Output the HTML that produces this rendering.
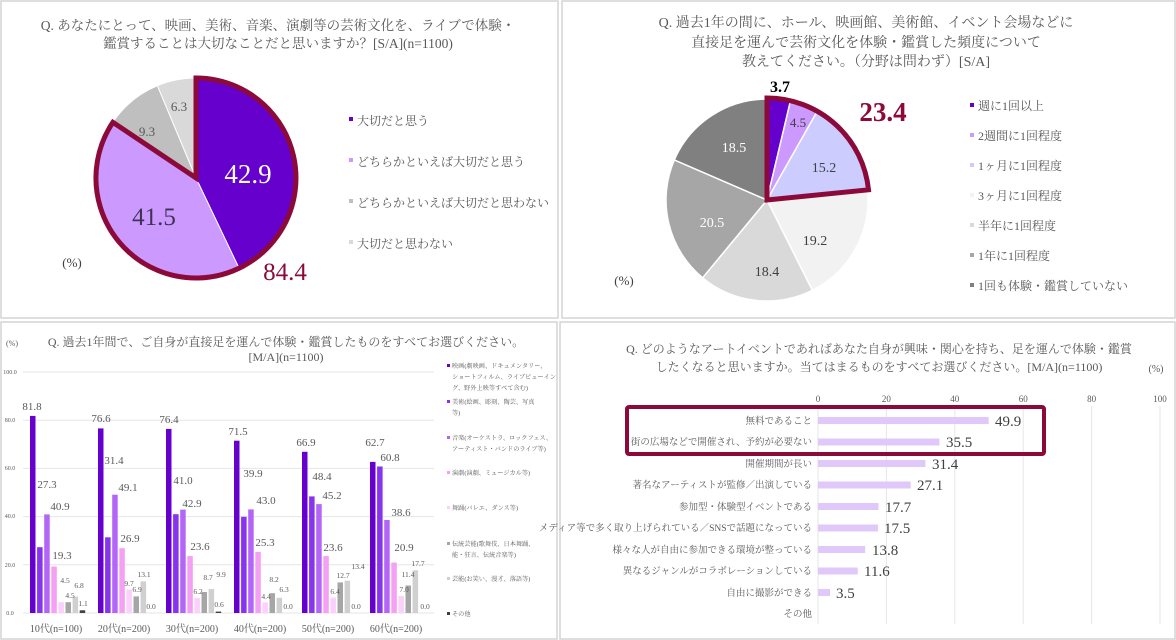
<!DOCTYPE html>
<html><head><meta charset="utf-8"><style>
html,body{margin:0;padding:0;background:#fff;}
svg{display:block;font-family:"Liberation Serif","Noto Serif CJK SC",serif;}
.t{fill:#595959;}
</style></head><body>
<svg width="1176" height="640" viewBox="0 0 1176 640" xmlns="http://www.w3.org/2000/svg">
<rect x="0" y="0" width="1176" height="640" fill="#fff"/>
<g fill="none" stroke="#d4d4d4" stroke-width="1.5">
<rect x="1" y="1" width="557" height="317"/>
<rect x="562" y="1" width="613" height="317"/>
<rect x="1" y="322" width="556" height="317"/>
<rect x="560" y="322" width="615" height="317"/>
</g>

<!-- Pie 1 -->
<g class="t" font-size="13.5" text-anchor="middle">
<text x="278" y="30">Q. あなたにとって、映画、美術、音楽、演劇等の芸術文化を、ライブで体験・</text>
<text x="278" y="48">鑑賞することは大切なことだと思いますか？[S/A](n=1100)</text>
</g>
<g stroke="#fff" stroke-width="1">
<path d="M196,178 L196,78 A100,100 0 0 1 239.1,268.3 Z" fill="#6600cc"/>
<path d="M196,178 L239.1,268.3 A100,100 0 0 1 112.9,122.3 Z" fill="#cc99ff"/>
<path d="M196,178 L112.9,122.3 A100,100 0 0 1 157.4,85.7 Z" fill="#bfbfbf"/>
<path d="M196,178 L157.4,85.7 A100,100 0 0 1 196,78 Z" fill="#d9d9d9"/>
</g>
<path d="M196,178 L196,78 A100,100 0 1 1 112.9,122.3 Z" fill="none" stroke="#8b0a3a" stroke-width="5" stroke-linejoin="miter"/>
<text x="248" y="183" font-size="27" fill="#fff" text-anchor="middle">42.9</text>
<text x="154" y="225" font-size="25" fill="#3f3355" text-anchor="middle">41.5</text>
<text x="147" y="136" font-size="13" fill="#595959" text-anchor="middle">9.3</text>
<text x="179" y="111" font-size="13" fill="#595959" text-anchor="middle">6.3</text>
<text x="285" y="280" font-size="25" fill="#8b0a3a" text-anchor="middle">84.4</text>
<text x="72" y="267" font-size="13" fill="#404040" text-anchor="middle">(%)</text>
<g font-size="12" class="t">
<rect x="349" y="117" width="4" height="4" fill="#6600cc"/><text x="357" y="125">大切だと思う</text>
<rect x="349" y="158" width="4" height="4" fill="#cc99ff"/><text x="357" y="166">どちらかといえば大切だと思う</text>
<rect x="349" y="199" width="4" height="4" fill="#bfbfbf"/><text x="357" y="207">どちらかといえば大切だと思わない</text>
<rect x="349" y="240" width="4" height="4" fill="#d9d9d9"/><text x="357" y="248">大切だと思わない</text>
</g>

<!-- Pie 2 -->
<g class="t" font-size="14" text-anchor="middle">
<text x="866" y="27">Q. 過去1年の間に、ホール、映画館、美術館、イベント会場などに</text>
<text x="866" y="47">直接足を運んで芸術文化を体験・鑑賞した頻度について</text>
<text x="866" y="66">教えてください。（分野は問わず）[S/A]</text>
</g>
<g stroke="#fff" stroke-width="1.5">
<path d="M767,200 L767,99 A101,101 0 0 1 790.3,101.7 Z" fill="#6600cc"/>
<path d="M767,200 L790.3,101.7 A101,101 0 0 1 816.8,112.1 Z" fill="#cc99ff"/>
<path d="M767,200 L816.8,112.1 A101,101 0 0 1 867.5,189.9 Z" fill="#ccccff"/>
<path d="M767,200 L867.5,189.9 A101,101 0 0 1 812.3,290.3 Z" fill="#f2f2f2"/>
<path d="M767,200 L812.3,290.3 A101,101 0 0 1 702.6,277.8 Z" fill="#d9d9d9"/>
<path d="M767,200 L702.6,277.8 A101,101 0 0 1 674.3,159.9 Z" fill="#a6a6a6"/>
<path d="M767,200 L674.3,159.9 A101,101 0 0 1 767,99 Z" fill="#808080"/>
</g>
<path d="M767,200 L767,98 A102,102 0 0 1 868.5,189.8 Z" fill="none" stroke="#8b0a3a" stroke-width="5"/>
<text x="780" y="92" font-size="16" font-weight="bold" fill="#000" text-anchor="middle">3.7</text>
<text x="798" y="127" font-size="13" fill="#404040" text-anchor="middle">4.5</text>
<text x="824" y="172" font-size="14" fill="#404040" text-anchor="middle">15.2</text>
<text x="883" y="121" font-size="27" font-weight="bold" fill="#8b0a3a" text-anchor="middle">23.4</text>
<text x="815" y="245" font-size="14" fill="#404040" text-anchor="middle">19.2</text>
<text x="767" y="276" font-size="14" fill="#404040" text-anchor="middle">18.4</text>
<text x="712" y="227" font-size="14" fill="#fff" text-anchor="middle">20.5</text>
<text x="734" y="152" font-size="14" fill="#fff" text-anchor="middle">18.5</text>
<text x="624" y="285" font-size="13" fill="#404040" text-anchor="middle">(%)</text>
<g font-size="12" class="t">
<rect x="970" y="103" width="4" height="4" fill="#6600cc"/><text x="978" y="110">週に1回以上</text>
<rect x="970" y="133" width="4" height="4" fill="#cc99ff"/><text x="978" y="140">2週間に1回程度</text>
<rect x="970" y="163" width="4" height="4" fill="#ccccff"/><text x="978" y="170">1ヶ月に1回程度</text>
<rect x="970" y="193" width="4" height="4" fill="#f2f2f2"/><text x="978" y="200">3ヶ月に1回程度</text>
<rect x="970" y="223" width="4" height="4" fill="#d9d9d9"/><text x="978" y="230">半年に1回程度</text>
<rect x="970" y="253" width="4" height="4" fill="#a6a6a6"/><text x="978" y="260">1年に1回程度</text>
<rect x="970" y="283" width="4" height="4" fill="#808080"/><text x="978" y="290">1回も体験・鑑賞していない</text>
</g>

<!-- Bottom-left bar chart -->
<g class="t" font-size="12" text-anchor="middle">
<text x="286" y="346">Q. 過去1年間で、ご自身が直接足を運んで体験・鑑賞したものをすべてお選びください。</text>
<text x="286" y="361">[M/A](n=1100)</text>
</g>
<text x="12" y="346" font-size="8" class="t" text-anchor="middle">(%)</text>
<g stroke="#e6e6e6" stroke-width="1">
<line x1="23" y1="372" x2="434" y2="372"/><line x1="23" y1="420.2" x2="434" y2="420.2"/>
<line x1="23" y1="468.4" x2="434" y2="468.4"/><line x1="23" y1="516.6" x2="434" y2="516.6"/>
<line x1="23" y1="564.8" x2="434" y2="564.8"/><line x1="23" y1="613" x2="434" y2="613"/>
</g>
<g font-size="6" class="t" text-anchor="middle">
<text x="10" y="374">100.0</text><text x="10" y="422">80.0</text><text x="10" y="470">60.0</text>
<text x="10" y="518">40.0</text><text x="10" y="567">20.0</text><text x="10" y="615">0.0</text>
</g>
<g>
<rect x="30" y="415.9" width="5.5" height="197.1" fill="#6600cc"/>
<rect x="37.1" y="547.2" width="5.5" height="65.8" fill="#8833ee"/>
<rect x="44.2" y="514.4" width="5.5" height="98.6" fill="#b366f5"/>
<rect x="51.3" y="566.5" width="5.5" height="46.5" fill="#f5a0f5"/>
<rect x="58.4" y="602.2" width="5.5" height="10.8" fill="#fbd0fb"/>
<rect x="65.5" y="602.2" width="5.5" height="10.8" fill="#a6a6a6"/>
<rect x="72.6" y="596.6" width="5.5" height="16.4" fill="#d0d0d0"/>
<rect x="79.7" y="610.3" width="5.5" height="2.7" fill="#404040"/>
<rect x="98" y="428.4" width="5.5" height="184.6" fill="#6600cc"/>
<rect x="105.1" y="537.3" width="5.5" height="75.7" fill="#8833ee"/>
<rect x="112.2" y="494.7" width="5.5" height="118.3" fill="#b366f5"/>
<rect x="119.3" y="548.2" width="5.5" height="64.8" fill="#f5a0f5"/>
<rect x="126.4" y="589.6" width="5.5" height="23.4" fill="#fbd0fb"/>
<rect x="133.5" y="596.4" width="5.5" height="16.6" fill="#a6a6a6"/>
<rect x="140.6" y="581.4" width="5.5" height="31.6" fill="#d0d0d0"/>
<rect x="166" y="428.9" width="5.5" height="184.1" fill="#6600cc"/>
<rect x="173.1" y="514.2" width="5.5" height="98.8" fill="#8833ee"/>
<rect x="180.2" y="509.6" width="5.5" height="103.4" fill="#b366f5"/>
<rect x="187.3" y="556.1" width="5.5" height="56.9" fill="#f5a0f5"/>
<rect x="194.4" y="598.1" width="5.5" height="14.9" fill="#fbd0fb"/>
<rect x="201.5" y="592" width="5.5" height="21" fill="#a6a6a6"/>
<rect x="208.6" y="589.1" width="5.5" height="23.9" fill="#d0d0d0"/>
<rect x="215.7" y="611.6" width="5.5" height="1.4" fill="#404040"/>
<rect x="234" y="440.7" width="5.5" height="172.3" fill="#6600cc"/>
<rect x="241.1" y="516.8" width="5.5" height="96.2" fill="#8833ee"/>
<rect x="248.2" y="509.4" width="5.5" height="103.6" fill="#b366f5"/>
<rect x="255.3" y="552" width="5.5" height="61" fill="#f5a0f5"/>
<rect x="262.4" y="602.4" width="5.5" height="10.6" fill="#fbd0fb"/>
<rect x="269.5" y="593.2" width="5.5" height="19.8" fill="#a6a6a6"/>
<rect x="276.6" y="597.8" width="5.5" height="15.2" fill="#d0d0d0"/>
<rect x="302" y="451.8" width="5.5" height="161.2" fill="#6600cc"/>
<rect x="309.1" y="496.4" width="5.5" height="116.6" fill="#8833ee"/>
<rect x="316.2" y="504.1" width="5.5" height="108.9" fill="#b366f5"/>
<rect x="323.3" y="556.1" width="5.5" height="56.9" fill="#f5a0f5"/>
<rect x="330.4" y="597.6" width="5.5" height="15.4" fill="#fbd0fb"/>
<rect x="337.5" y="582.4" width="5.5" height="30.6" fill="#a6a6a6"/>
<rect x="344.6" y="580.7" width="5.5" height="32.3" fill="#d0d0d0"/>
<rect x="370" y="461.9" width="5.5" height="151.1" fill="#6600cc"/>
<rect x="377.1" y="466.5" width="5.5" height="146.5" fill="#8833ee"/>
<rect x="384.2" y="520" width="5.5" height="93" fill="#b366f5"/>
<rect x="391.3" y="562.6" width="5.5" height="50.4" fill="#f5a0f5"/>
<rect x="398.4" y="596.1" width="5.5" height="16.9" fill="#fbd0fb"/>
<rect x="405.5" y="585.5" width="5.5" height="27.5" fill="#a6a6a6"/>
<rect x="412.6" y="570.3" width="5.5" height="42.7" fill="#d0d0d0"/>
</g>
<g class="t" text-anchor="middle" font-size="11" fill="#404040">
<text x="32" y="410">81.8</text><text x="47" y="488">27.3</text><text x="60" y="510">40.9</text><text x="62" y="559">19.3</text>
<text x="101" y="422">76.6</text><text x="114" y="464">31.4</text><text x="128" y="491">49.1</text><text x="130" y="542">26.9</text>
<text x="169" y="423">76.4</text><text x="183" y="484">41.0</text><text x="192" y="507">42.9</text><text x="200" y="550">23.6</text>
<text x="238" y="435">71.5</text><text x="253" y="477">39.9</text><text x="266" y="504">43.0</text><text x="265" y="546">25.3</text>
<text x="306" y="446">66.9</text><text x="322" y="480">48.4</text><text x="332" y="499">45.2</text><text x="333" y="551">23.6</text>
<text x="375" y="446">62.7</text><text x="390" y="461">60.8</text><text x="401" y="516">38.6</text><text x="404" y="551">20.9</text>
</g>
<g class="t" text-anchor="middle" font-size="7.5">
<text x="65" y="583">4.5</text><text x="70" y="598">4.5</text><text x="79" y="588">6.8</text><text x="83" y="606">1.1</text>
<text x="129" y="586">9.7</text><text x="137" y="592">6.9</text><text x="144" y="577">13.1</text><text x="151" y="609">0.0</text>
<text x="198" y="594">6.2</text><text x="208" y="580">8.7</text><text x="221" y="577">9.9</text><text x="219" y="607">0.6</text>
<text x="266" y="599">4.4</text><text x="274" y="582">8.2</text><text x="284" y="592">6.3</text><text x="288" y="609">0.0</text>
<text x="335" y="594">6.4</text><text x="343" y="578">12.7</text><text x="358" y="569">13.4</text><text x="356" y="609">0.0</text>
<text x="404" y="592">7.0</text><text x="408" y="577">11.4</text><text x="418" y="566">17.7</text><text x="425" y="609">0.0</text>
</g>
<g class="t" text-anchor="middle" font-size="10">
<text x="56" y="632">10代(n=100)</text><text x="124" y="632">20代(n=200)</text><text x="192" y="632">30代(n=200)</text>
<text x="260" y="632">40代(n=200)</text><text x="328" y="632">50代(n=200)</text><text x="396" y="632">60代(n=200)</text>
</g>
<g class="t" font-size="6.2">
<rect x="447" y="364" width="3" height="3" fill="#6600cc"/>
<text x="452" y="368">映画(劇映画、ドキュメンタリー、</text><text x="452" y="379">ショートフィルム、ライブビューイン</text><text x="452" y="390">グ、野外上映等すべて含む)</text>
<rect x="447" y="400" width="3" height="3" fill="#8833ee"/>
<text x="452" y="404">美術(絵画、彫刻、陶芸、写真</text><text x="452" y="415">等)</text>
<rect x="447" y="436" width="3" height="3" fill="#b366f5"/>
<text x="452" y="440">音楽(オーケストラ、ロックフェス、</text><text x="452" y="451">アーティスト・バンドのライブ等)</text>
<rect x="447" y="471" width="3" height="3" fill="#f5a0f5"/>
<text x="452" y="475">演劇(演劇、ミュージカル等)</text>
<rect x="447" y="506" width="3" height="3" fill="#fbd0fb"/>
<text x="452" y="510">舞踊(バレエ、ダンス等)</text>
<rect x="447" y="542" width="3" height="3" fill="#a6a6a6"/>
<text x="452" y="546">伝統芸能(歌舞伎、日本舞踊、</text><text x="452" y="557">能・狂言、伝統音楽等)</text>
<rect x="447" y="577" width="3" height="3" fill="#d0d0d0"/>
<text x="452" y="581">芸能(お笑い、漫才、落語等)</text>
<rect x="447" y="612" width="3" height="3" fill="#404040"/>
<text x="452" y="616">その他</text>
</g>

<!-- Bottom-right horizontal bar chart -->
<g class="t" font-size="12" text-anchor="middle">
<text x="879" y="353">Q. どのようなアートイベントであればあなた自身が興味・関心を持ち、足を運んで体験・鑑賞</text>
<text x="879" y="371">したくなると思いますか。当てはまるものをすべてお選びください。[M/A](n=1100)</text>
</g>
<text x="1156" y="372" font-size="10" class="t" text-anchor="middle">(%)</text>
<g stroke="#e6e6e6" stroke-width="1">
<line x1="818" y1="406" x2="818" y2="624"/><line x1="886.4" y1="406" x2="886.4" y2="624"/>
<line x1="954.8" y1="406" x2="954.8" y2="624"/><line x1="1023.2" y1="406" x2="1023.2" y2="624"/>
<line x1="1091.6" y1="406" x2="1091.6" y2="624"/><line x1="1160" y1="406" x2="1160" y2="624"/>
</g>
<g class="t" font-size="9" text-anchor="middle" fill="#8c8c8c">
<text x="818" y="402">0</text><text x="886.4" y="402">20</text><text x="954.8" y="402">40</text>
<text x="1023.2" y="402">60</text><text x="1091.6" y="402">80</text><text x="1160" y="402">100</text>
</g>
<g fill="#e0c8fa">
<rect x="818" y="417" width="170.7" height="7"/>
<rect x="818" y="438.5" width="121.4" height="7"/>
<rect x="818" y="460" width="107.4" height="7"/>
<rect x="818" y="481.5" width="92.7" height="7"/>
<rect x="818" y="503" width="60.5" height="7"/>
<rect x="818" y="524.5" width="59.9" height="7"/>
<rect x="818" y="546" width="47.2" height="7"/>
<rect x="818" y="567.5" width="39.7" height="7"/>
<rect x="818" y="589" width="12" height="7"/>
</g>
<g class="t" font-size="9.5" text-anchor="end" fill="#404040">
<text x="812" y="424">無料であること</text>
<text x="812" y="445">街の広場などで開催され、予約が必要ない</text>
<text x="812" y="467">開催期間が長い</text>
<text x="812" y="488">著名なアーティストが監修／出演している</text>
<text x="812" y="510">参加型・体験型イベントである</text>
<text x="812" y="531">メディア等で多く取り上げられている／SNSで話題になっている</text>
<text x="812" y="553">様々な人が自由に参加できる環境が整っている</text>
<text x="812" y="574">異なるジャンルがコラボレーションしている</text>
<text x="812" y="596">自由に撮影ができる</text>
<text x="812" y="617">その他</text>
</g>
<g font-size="15" fill="#404040">
<text x="995" y="426">49.9</text>
<text x="946" y="447">35.5</text>
<text x="932" y="469">31.4</text>
<text x="917" y="490">27.1</text>
<text x="885" y="512">17.7</text>
<text x="884" y="533">17.5</text>
<text x="872" y="555">13.8</text>
<text x="864" y="576">11.6</text>
<text x="836" y="598">3.5</text>
</g>
<rect x="627" y="407" width="417" height="47" fill="none" stroke="#8b0a3a" stroke-width="4" rx="2"/>
</svg>
</body></html>
